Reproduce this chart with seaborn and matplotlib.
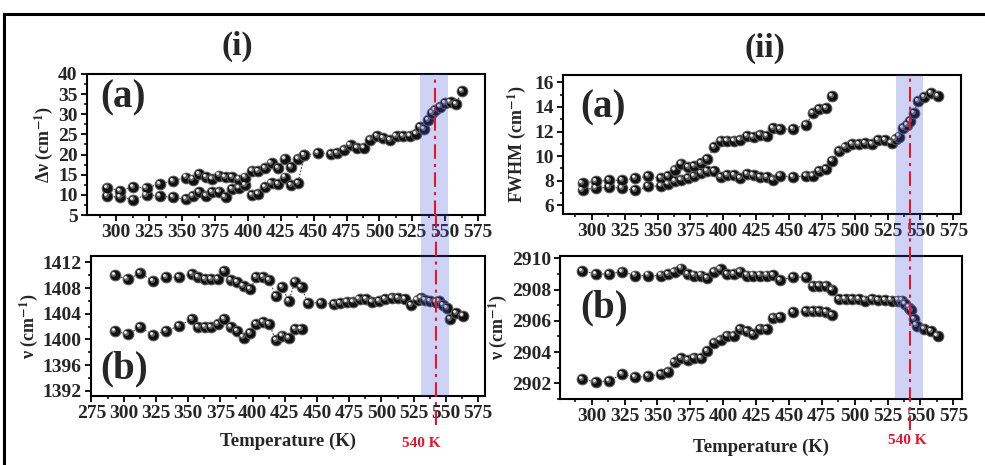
import numpy as np
import pandas as pd
import seaborn as sns
import matplotlib
matplotlib.use("Agg")
import matplotlib.pyplot as plt
from matplotlib.patches import Rectangle
from matplotlib.transforms import ScaledTranslation
from matplotlib.ticker import MultipleLocator

# ---------------- data ----------------
T_low_i = [293, 303, 313, 323, 333, 343, 353, 358, 363, 368, 373, 378, 383, 388,
           393, 398, 403, 408, 413, 418, 423, 428, 433, 438]

# (i)(a) linewidth  Δν
T_ia_up = [293, 303, 313, 323, 333, 343, 353, 358, 363, 368, 373, 378, 383, 388,
           393, 398, 403, 408, 413, 418, 423, 428, 433, 438, 443, 453, 463, 468,
           473, 478, 483, 488, 493, 498, 503, 508, 513, 518, 523, 528, 531, 534,
           537, 540, 542, 546, 550, 554, 558, 563]
dv_ia_up = [11.8, 11.0, 12.0, 11.7, 12.7, 13.5, 14.3, 13.8, 15.1, 14.4, 14.0, 14.8,
            14.4, 14.4, 13.8, 14.3, 16.0, 15.8, 16.7, 17.8, 16.7, 19.0, 16.9, 19.0,
            19.8, 20.4, 20.2, 20.4, 21.2, 22.3, 21.7, 21.7, 23.7, 24.5, 24.1, 23.5,
            24.5, 24.5, 24.7, 25.2, 26.9, 26.3, 28.6, 30.2, 31.0, 31.9, 32.7, 33.1,
            32.5, 35.8]
T_ia_low = T_low_i + [443]
dv_ia_low = [9.6, 9.5, 8.8, 10.0, 9.75, 9.35, 8.95, 9.6, 10.6, 9.8, 10.6, 10.8,
             9.35, 11.4, 11.8, 12.5, 10.0, 10.3, 11.9, 13.0, 12.6, 14.3, 12.4, 13.0,
             19.8]

# (i)(b) position ν ~1400 cm-1
T_ib_up = [293, 303, 313, 323, 333, 343, 353, 358, 363, 368, 373, 378, 383, 388,
           393, 398, 403, 408, 413, 418, 423, 428, 433, 438, 443, 453, 463, 468,
           473, 478, 483, 488, 493, 498, 503, 508, 513, 518, 523, 528, 531, 534,
           538, 542, 545, 548, 551, 553, 558, 563]
nu_ib_up = [1410.0, 1409.4, 1410.3, 1409.1, 1409.7, 1409.7, 1410.2, 1409.7, 1409.45,
            1409.4, 1409.4, 1410.6, 1409.3, 1408.9, 1408.3, 1407.8, 1409.7, 1409.7,
            1409.2, 1406.8, 1408.1, 1406.0, 1409.0, 1408.1, 1405.7, 1405.7, 1405.5,
            1405.7, 1405.9, 1405.9, 1406.3, 1406.3, 1405.9, 1406.0, 1406.3, 1406.5,
            1406.4, 1406.3, 1405.4, 1406.2, 1406.5, 1406.1, 1406.0, 1405.9, 1406.0,
            1405.4, 1404.9, 1403.2, 1404.1, 1403.7]
nu_ib_low = [1401.35, 1400.8, 1401.9, 1400.7, 1401.35, 1402.1, 1403.2, 1401.9,
             1401.9, 1401.9, 1402.4, 1403.2, 1401.9, 1401.35, 1400.3, 1401.0,
             1402.4, 1402.65, 1402.4, 1399.85, 1400.6, 1400.2, 1401.6, 1401.6]

# (ii)(a) FWHM
T_iia_up = [293, 303, 313, 323, 333, 343, 353, 358, 363, 368, 373, 378, 383, 388,
            393, 398, 403, 408, 413, 418, 423, 428, 433, 438, 443, 453, 463, 468,
            473, 478, 483]
fw_iia_up = [7.82, 7.95, 8.03, 8.03, 8.22, 8.36, 8.22, 8.36, 8.9, 9.39, 9.12, 9.22,
             9.44, 9.77, 10.74, 11.26, 11.26, 11.26, 11.34, 11.66, 11.53, 11.75,
             11.66, 12.29, 12.21, 12.21, 12.56, 13.5, 13.83, 13.91, 14.9]
T_iia_low = [293, 303, 313, 323, 333, 343, 353, 358, 363, 368, 373, 378, 383, 388,
             393, 398, 403, 408, 413, 418, 423, 428, 433, 438, 443, 453, 463, 468,
             473, 478, 483, 488, 493, 498, 503, 508, 513, 518, 523, 528, 531, 534,
             537, 540, 542, 545, 548, 553, 558, 563]
fw_iia_low = [7.27, 7.41, 7.46, 7.41, 7.22, 7.54, 7.6, 7.76, 7.95, 8.09, 8.2, 8.35,
              8.63, 8.76, 8.76, 8.3, 8.49, 8.49, 8.2, 8.57, 8.44, 8.3, 8.3, 8.09,
              8.41, 8.3, 8.41, 8.41, 8.76, 8.95, 9.63, 10.4, 10.75, 10.95, 11.0,
              11.05, 11.0, 11.3, 11.3, 11.1, 11.4, 11.6, 12.3, 12.5, 12.85, 13.5,
              14.5, 14.8, 15.1, 14.9]

# (ii)(b) position ν ~2905 cm-1
T_iib_up = [293, 303, 313, 323, 333, 343, 353, 358, 363, 368, 373, 378, 383, 388,
            393, 398, 403, 408, 413, 418, 423, 428, 433, 438, 443, 453, 463, 468,
            473, 478, 483, 488, 493, 498, 503, 508, 513, 518, 523, 528, 533, 536,
            538, 541, 543, 545, 547, 553, 558, 563]
nu_iib_up = [2909.2, 2909.0, 2909.0, 2909.15, 2908.9, 2908.9, 2908.9, 2909.0,
             2909.15, 2909.35, 2909.0, 2908.9, 2908.9, 2908.75, 2909.15, 2909.3,
             2909.0, 2909.0, 2909.15, 2908.9, 2908.9, 2908.9, 2908.9, 2908.95,
             2908.6, 2908.8, 2908.8, 2908.25, 2908.25, 2908.25, 2908.0, 2907.4,
             2907.4, 2907.4, 2907.4, 2907.3, 2907.4, 2907.35, 2907.35, 2907.3,
             2907.3, 2907.3, 2907.1, 2906.85, 2906.7, 2906.1, 2905.7, 2905.5,
             2905.35, 2905.05]
T_iib_low = T_iia_up
nu_iib_low = [2902.25, 2902.1, 2902.15, 2902.6, 2902.4, 2902.45, 2902.6, 2902.75,
              2903.35, 2903.6, 2903.5, 2903.65, 2903.6, 2904.05, 2904.6, 2904.8,
              2905.05, 2905.05, 2905.45, 2905.35, 2905.15, 2905.5, 2905.45, 2906.2,
              2906.25, 2906.55, 2906.6, 2906.6, 2906.6, 2906.55, 2906.35]

band = (531, 552)
t_c = 542

# ---------------- style ----------------
sns.set_theme(style="ticks")
plt.rcParams["font.family"] = ["Liberation Serif", "DejaVu Serif"]
plt.rcParams["font.weight"] = "bold"
plt.rcParams["axes.labelweight"] = "bold"
plt.rcParams["mathtext.fontset"] = "stix"

W, H = 985, 465
fig = plt.figure(figsize=(W / 100, H / 100), dpi=100)


def px_axes(l, r, t, b):
    return fig.add_axes([l / W, 1 - b / H, (r - l) / W, (b - t) / H])


ax_ia = px_axes(86.7, 485, 74, 215)
ax_ib = px_axes(90.5, 485, 256, 396)
ax_iia = px_axes(562.7, 961, 75, 214)
ax_iib = px_axes(560, 961.5, 256, 399)

RED = "#e5152e"
BAND = "#3f50dc"


def series(ax, T, v):
    df = pd.DataFrame({"T": T, "v": v})
    sns.lineplot(data=df, x="T", y="v", sort=False, estimator=None, ax=ax,
                 color="#444444", lw=0.8, linestyle=(0, (1.5, 1.5)), zorder=2)
    sns.scatterplot(data=df, x="T", y="v", ax=ax, s=60, color="#111111",
                    edgecolor="#5e5e5e", linewidth=0.7, zorder=3)
    sns.scatterplot(data=df, x="T", y="v", ax=ax, s=12, color="#6a6a6a",
                    linewidth=0, zorder=3.1)
    c = ax.collections[-1]
    c.set_offset_transform(ax.transData + ScaledTranslation(-0.9 / 72, 0.9 / 72, fig.dpi_scale_trans))
    sns.scatterplot(data=df, x="T", y="v", ax=ax, s=4, color="#f4f4f4",
                    linewidth=0, zorder=3.2)
    c = ax.collections[-1]
    c.set_offset_transform(ax.transData + ScaledTranslation(-1.5 / 72, 1.5 / 72, fig.dpi_scale_trans))


def style(ax, xlim, ylim, xmaj, ymaj, xticks):
    ax.set_xlim(*xlim)
    ax.set_ylim(*ylim)
    ax.set_xticks(xticks)
    ax.xaxis.set_minor_locator(MultipleLocator(xmaj / 2))
    ax.yaxis.set_major_locator(MultipleLocator(ymaj))
    ax.yaxis.set_minor_locator(MultipleLocator(ymaj / 2))
    ax.tick_params(which="major", direction="out", length=4.5, width=1.3,
                   labelsize=14, pad=2, color="black")
    ax.tick_params(which="minor", direction="out", length=2.5, width=1.1, color="black")
    for sp in ax.spines.values():
        sp.set_visible(True)
        sp.set_linewidth(1.5)
        sp.set_color("black")
    ax.set_xlabel("")
    ax.set_ylabel("")


# (i)
series(ax_ia, T_ia_low, dv_ia_low)
series(ax_ia, T_ia_up, dv_ia_up)
style(ax_ia, (277.5, 580.2), (5, 40), 25, 5, np.arange(300, 576, 25))
ax_ia.set_ylabel(r"Δν (cm$^{\mathbf{-1}}$)", fontsize=13, labelpad=2)

series(ax_ib, T_low_i, nu_ib_low)
series(ax_ib, T_ib_up, nu_ib_up)
style(ax_ib, (274.3, 580.3), (1391.2, 1413), 25, 4, np.arange(275, 576, 25))
ax_ib.set_ylabel(r"ν (cm$^{\mathbf{-1}}$)", fontsize=13, labelpad=2)
ax_ib.set_xlabel("Temperature (K)", fontsize=13.5, labelpad=8)

# (ii)
series(ax_iia, T_iia_low, fw_iia_low)
series(ax_iia, T_iia_up, fw_iia_up)
style(ax_iia, (277.9, 580.8), (5.3, 16.6), 25, 2, np.arange(300, 576, 25))
ax_iia.set_ylabel(r"FWHM (cm$^{\mathbf{-1}}$)", fontsize=13, labelpad=4)

series(ax_iib, T_iib_low, nu_iib_low)
series(ax_iib, T_iib_up, nu_iib_up)
style(ax_iib, (275.9, 581.2), (2901.0, 2910.15), 25, 2, np.arange(300, 576, 25))
ax_iib.set_ylabel(r"ν (cm$^{\mathbf{-1}}$)", fontsize=13, labelpad=2)
ax_iib.set_xlabel("Temperature (K)", fontsize=13.5, labelpad=10)

# transition band and line
dash = (0, (7, 2.5, 1.5, 2.5))
for top, bot, gap, below in [(ax_ia, ax_ib, 256 - 215, 425 - 396),
                             (ax_iia, ax_iib, 256 - 214, 430 - 399)]:
    hb = bot.get_position().height * H
    top.axvspan(*band, color=BAND, alpha=0.25, lw=0, zorder=5)
    bot.axvspan(*band, color=BAND, alpha=0.25, lw=0, zorder=5)
    bot.axvspan(*band, ymin=1, ymax=1 + gap / hb, color=BAND, alpha=0.25, lw=0,
                zorder=5, clip_on=False)
    top.axvline(t_c, color=RED, lw=1.5, linestyle=dash, zorder=6)
    bot.axvline(t_c, ymin=-below / hb, ymax=1 + gap / hb, color=RED, lw=1.5,
                linestyle=dash, zorder=6, clip_on=False)

# panel letters
ax_ia.text(0.033, 0.83, "(a)", transform=ax_ia.transAxes, fontsize=28,
           fontweight="bold", va="center", ha="left")
ax_ib.text(0.024, 0.19, "(b)", transform=ax_ib.transAxes, fontsize=28,
           fontweight="bold", va="center", ha="left")
ax_iia.text(0.043, 0.76, "(a)", transform=ax_iia.transAxes, fontsize=28,
            fontweight="bold", va="center", ha="left")
ax_iib.text(0.05, 0.64, "(b)", transform=ax_iib.transAxes, fontsize=28,
            fontweight="bold", va="center", ha="left")

fig.text(237 / W, 1 - 46 / H, "(i)", fontsize=24, fontweight="bold", ha="center", va="center")
fig.text(765 / W, 1 - 48 / H, "(ii)", fontsize=24, fontweight="bold", ha="center", va="center")
fig.text(421 / W, 1 - 443 / H, "540 K", fontsize=11, fontweight="bold", color=RED,
         ha="center", va="center")
fig.text(907 / W, 1 - 440 / H, "540 K", fontsize=11, fontweight="bold", color=RED,
         ha="center", va="center")

# outer frame
fig.add_artist(Rectangle((4 / W, -0.05), 1.2, 1 - 14 / H + 0.05, transform=fig.transFigure,
                         fill=False, lw=2.2, ec="black"))

fig.savefig("out.png", dpi=100)
